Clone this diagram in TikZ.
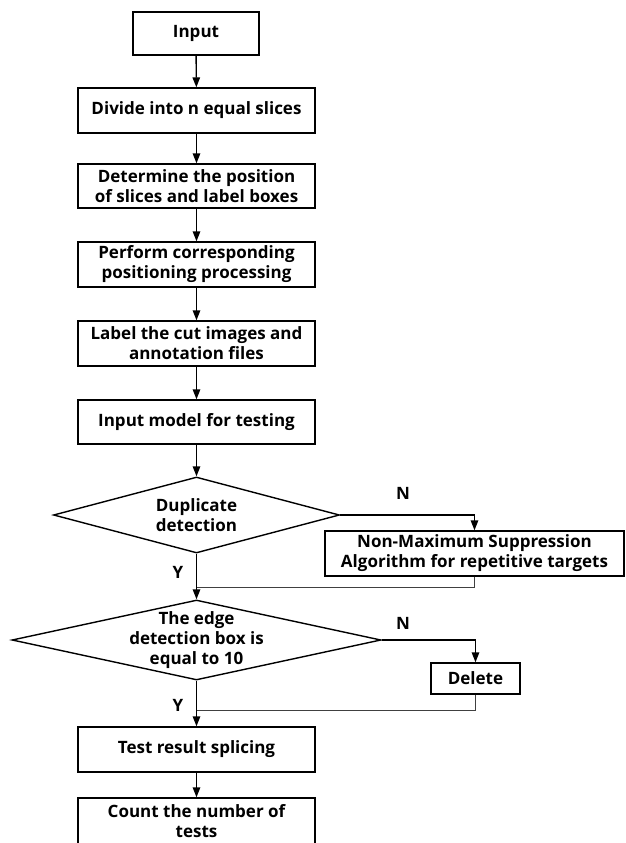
\documentclass[tikz,border=0pt]{standalone}
\usepackage{fontspec}
\setmainfont{Open Sans}
\usepackage{tikz}
\usetikzlibrary{shapes.geometric,arrows.meta}

\begin{document}
\begin{tikzpicture}[x=1pt, y=-1pt,
		every node/.style={font=\bfseries\fontsize{17}{20}\selectfont, align=center, inner sep=0pt},
		stepbox/.style={draw, line width=1.4pt, minimum width=237pt, minimum height=45pt},
		decision/.style={draw, line width=1.4pt, shape=diamond, inner xsep=0pt, inner ysep=-16pt, aspect=4},
		arr/.style={line width=1.4pt, -{Triangle[length=10pt,width=7.5pt]}},
		back/.style={line width=1pt, draw=black!75}]
	\useasboundingbox (0,0) rectangle (625,843);
		\path (196,33.5) node[stepbox, minimum width=126pt, minimum height=43pt] (in) {Input}
		(196.5,110.5) node[stepbox] (div) {Divide into n equal slices}
		(196.5,186) node[stepbox, minimum height=44pt] (det) {Determine the position\\of slices and label boxes}
		(196.5,264.5) node[stepbox] (perf) {Perform corresponding\\positioning processing}
		(196.5,343.5) node[stepbox] (lab) {Label the cut images and\\annotation files}
		(196.5,422) node[stepbox, minimum height=44pt] (inm) {Input model for testing}
		(196.5,515) node[decision, minimum width=286pt, minimum height=76pt] (d1) {Duplicate\\detection}
		(474.5,553.5) node[stepbox, minimum width=299pt] (nms) {Non-Maximum Suppression\\Algorithm for repetitive targets}
		(196.5,640) node[decision, minimum width=369pt, minimum height=80pt] (d2) {The edge\\detection box is\\equal to 10}
		(475.5,678.5) node[stepbox, minimum width=89pt, minimum height=31pt] (del) {Delete}
		(196.5,749.5) node[stepbox] (tr) {Test result splicing}
		(196.5,821) node[stepbox, minimum height=46pt] (cnt) {Count the number of\\tests};

		\coordinate (j1) at (196.5,587);
		\coordinate (j2) at (196.5,710);

		\path (403,493) node (n1) {N}
		(403,623) node (n2) {N}
		(178,572) node (y1) {Y}
		(178,705) node (y2) {Y};

		\draw[arr] (in) -- (div);
		\draw[arr] (div) -- (det);
		\draw[arr] (det) -- (perf);
		\draw[arr] (perf) -- (lab);
		\draw[arr] (lab) -- (inm);
		\draw[arr] (inm) -- (d1);
		\draw[arr] (d1.east) -| (nms.north);
		\draw[arr] (d1.south) -- (d2.north);
		\draw[back] (nms.south) |- (j1);
		\draw[arr] (d2.east) -| (del.north);
		\draw[arr] (d2.south) -- (tr.north);
		\draw[back] (del.south) |- (j2);
		\draw[arr] (tr) -- (cnt);
	\end{tikzpicture}
\end{document}
